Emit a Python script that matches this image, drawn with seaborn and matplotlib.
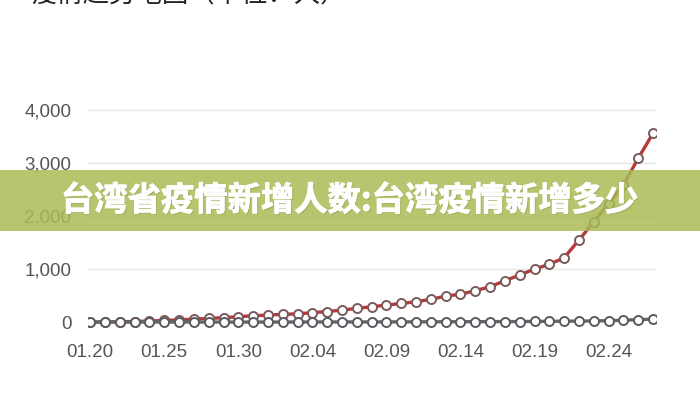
import matplotlib
matplotlib.use("Agg")
import matplotlib.pyplot as plt
import matplotlib.patheffects as pe
from matplotlib.lines import Line2D
from matplotlib.patches import Rectangle
import numpy as np
import pandas as pd
import seaborn as sns

# 数据
dates = pd.date_range("2020-01-20", "2020-02-27", freq="D")
confirmed = [0, 2, 5, 10, 20, 30, 42, 55, 68, 82,
             100, 119, 132, 145, 155, 176, 198, 226, 258, 289,
             320, 350, 383, 428, 490, 525, 591, 666, 780, 887,
             1000, 1089, 1213, 1547, 1892, 2230, 2585, 3089, 3560]
deaths = [0, 0, 0, 0, 0, 0, 0, 0, 0, 0,
          0, 0, 0, 0, 1, 1, 1, 2, 2, 2,
          3, 3, 4, 4, 5, 6, 7, 8, 9, 10,
          12, 14, 16, 18, 20, 26, 35, 45, 55]
series_names = ["确诊", "死亡"]
yticks = [0, 1000, 2000, 3000, 4000]

title = "疫情趋势地图（单位：人）"
banner = "台湾省疫情新增人数:台湾疫情新增多少"

sns.set_theme(style="white")
plt.rcParams["font.family"] = ["Noto Sans CJK SC", "DejaVu Sans"]

df = pd.DataFrame({
    "day": np.arange(len(dates)),
    "confirmed": confirmed,
    "deaths": deaths,
})
labels = dates.strftime("%m.%d")

fig = plt.figure(figsize=(7, 4), dpi=100)
ax = fig.add_axes([88 / 700, 0.175, 568 / 700, 0.57])

red = "#b5393b"
grey = "#62646c"
sns.lineplot(data=df, x="day", y="confirmed", ax=ax, color=red, linewidth=2.4,
             marker="o", markersize=6.5, markerfacecolor="white",
             markeredgecolor="#7a5a5a", markeredgewidth=1.4, zorder=2)
sns.lineplot(data=df, x="day", y="deaths", ax=ax, color=grey, linewidth=2.4,
             marker="o", markersize=6.5, markerfacecolor="white",
             markeredgecolor="#5a5a5f", markeredgewidth=1.4, zorder=3)

ax.set_xlim(-0.15, 38.2)
ax.set_ylim(-150, 4150)
ax.set_yticks(yticks)
ax.set_yticklabels([f"{v:,}" for v in yticks])
ax.set_xticks(df["day"][::5])
ax.set_xticklabels(labels[::5])
ax.tick_params(axis="both", length=0, labelsize=13.5, colors="#555555")
ax.tick_params(axis="y", pad=12)
ax.tick_params(axis="x", pad=10)
for lab in ax.get_xticklabels() + ax.get_yticklabels():
    lab.set_family(["Liberation Sans", "DejaVu Sans"])
ax.set_xlabel("")
ax.set_ylabel("")
for v in yticks[1:]:
    ax.axhline(v, color="#e6e6e6", linewidth=1, zorder=0)
for s in ax.spines.values():
    s.set_visible(False)

# 顶部被裁掉的标题
fig.text(30 / 700, 1.012, title, fontsize=19, color="#222222", va="center", ha="left")

# 图例（底部，部分被裁掉）
handles = [Line2D([], [], marker="s", linestyle="", markersize=10, color=c)
           for c in (red, grey)]
fig.legend(handles, series_names, loc="upper left", bbox_to_anchor=(0.03, 0.02),
           ncol=2, frameon=False, fontsize=12, labelcolor="#555555",
           handletextpad=0.6, columnspacing=4)

# 横幅
fig.add_artist(Rectangle((0, 1 - 231 / 400), 1, 61 / 400, transform=fig.transFigure,
                         facecolor="#a9bb55", alpha=0.85, edgecolor="none", zorder=5))
fig.text(0.5, 1 - 201 / 400, banner, fontsize=24, fontweight="black", color="white",
         ha="center", va="center", zorder=6,
         path_effects=[pe.withSimplePatchShadow(offset=(1, -1), shadow_rgbFace="#7d8842", alpha=0.3),
                       pe.Stroke(linewidth=0.6, foreground="white"), pe.Normal()])

fig.savefig("out.png", dpi=100)
